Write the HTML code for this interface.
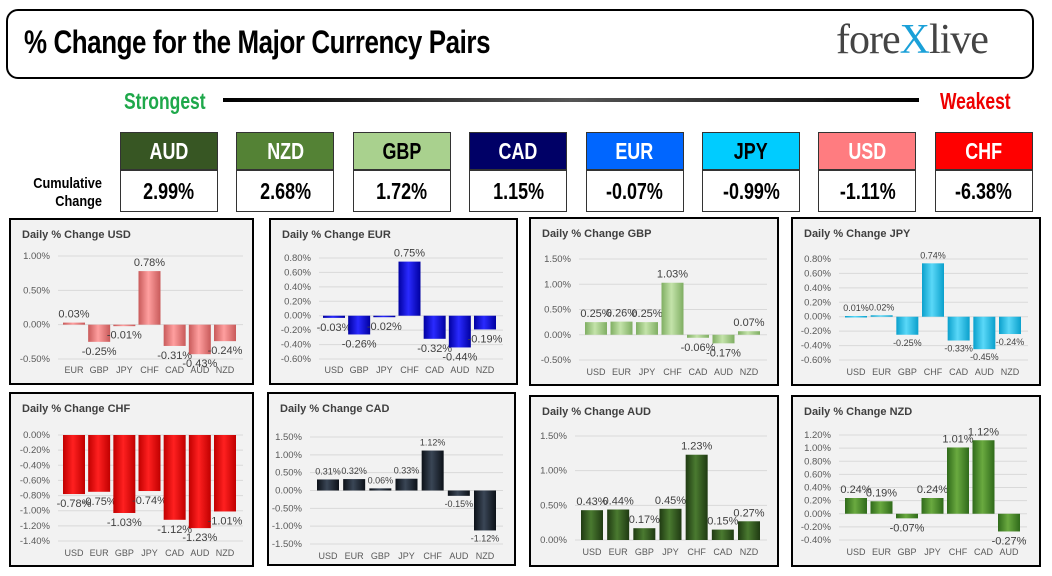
<!DOCTYPE html>
<html><head><meta charset="utf-8">
<style>
body{margin:0;width:1052px;height:576px;background:#fff;position:relative;overflow:hidden;font-family:"Liberation Sans",sans-serif;}
.abs{position:absolute;}
.cond{font-family:"Liberation Sans Narrow","Liberation Sans",sans-serif;font-weight:bold;}
.hdr{position:absolute;top:132px;width:98px;height:38px;border:1px solid #333;box-sizing:border-box;display:flex;align-items:center;justify-content:center;font-size:23px;}
.val{position:absolute;top:170px;width:98px;height:42px;border:1px solid #333;box-sizing:border-box;display:flex;align-items:center;justify-content:center;font-size:23px;color:#000;}
</style></head><body>
<div class="abs" style="left:6px;top:9px;width:1028px;height:70px;border:2px solid #000;border-radius:12px;box-sizing:border-box;"></div>
<div class="abs cond" style="left:24px;top:24px;font-size:32px;transform:scaleX(0.81);transform-origin:left;white-space:nowrap;letter-spacing:-0.5px;">% Change for the Major Currency Pairs</div>
<div class="abs" style="left:836px;top:16px;font-family:'Liberation Serif',serif;font-size:42px;color:#444;white-space:nowrap;letter-spacing:-1px;">fore<span style="color:#1aa0d8">X</span>live</div>
<div class="abs cond" style="left:124px;top:88px;font-size:23px;color:#1ea84a;transform:scaleX(0.76);transform-origin:left;">Strongest</div>
<div class="abs" style="left:223px;top:98px;width:696px;height:4px;background:linear-gradient(to right,#000,#555 50%,#000);"></div>
<div class="abs cond" style="left:940px;top:88px;font-size:23px;color:#e00;transform:scaleX(0.76);transform-origin:left;">Weakest</div>
<div class="abs cond" style="left:18px;top:175px;width:84px;text-align:right;font-size:15px;line-height:18px;transform:scaleX(0.85);transform-origin:right;">Cumulative<br>Change</div>
<div id="boxes"></div>
<svg id="charts" width="1052" height="576" style="position:absolute;left:0;top:0">
<defs></defs>
</svg>
<script>
const boxCurrencies=["AUD","NZD","GBP","CAD","EUR","JPY","USD","CHF"];
const boxValues=["2.99%","2.68%","1.72%","1.15%","-0.07%","-0.99%","-1.11%","-6.38%"];
const boxBg=["#375623","#548235","#a9d18e","#000066","#0066ff","#00ccff","#ff7c80","#ff0000"];
const boxFg=["#fff","#fff","#000","#fff","#fff","#000","#fff","#fff"];
const bx=document.getElementById('boxes');
boxCurrencies.forEach((c,i)=>{
  const x=120+i*116.4;
  const h=document.createElement('div');h.className='hdr cond';
  h.style.left=x+'px';h.style.background=boxBg[i];h.style.color=boxFg[i];
  h.innerHTML='<span style="display:inline-block;transform:scaleX(0.78)">'+c+'</span>';
  
  
  bx.appendChild(h);
  const v=document.createElement('div');v.className='val cond';v.style.left=x+'px';
  v.innerHTML='<span style="display:inline-block;transform:scaleX(0.78)">'+boxValues[i]+'</span>';
  
  
  bx.appendChild(v);
});

// chart data
const usdCats=["EUR","GBP","JPY","CHF","CAD","AUD","NZD"];
const usdVals=[0.03,-0.25,-0.01,0.78,-0.31,-0.43,-0.24];
const usdTicks=[-0.5,0,0.5,1.0];
const eurCats=["USD","GBP","JPY","CHF","CAD","AUD","NZD"];
const eurVals=[-0.03,-0.26,-0.02,0.75,-0.32,-0.44,-0.19];
const eurTicks=[-0.6,-0.4,-0.2,0,0.2,0.4,0.6,0.8];
const gbpCats=["USD","EUR","JPY","CHF","CAD","AUD","NZD"];
const gbpVals=[0.25,0.26,0.25,1.03,-0.06,-0.17,0.07];
const gbpTicks=[-0.5,0,0.5,1.0,1.5];
const jpyCats=["USD","EUR","GBP","CHF","CAD","AUD","NZD"];
const jpyVals=[0.01,0.02,-0.25,0.74,-0.33,-0.45,-0.24];
const jpyTicks=[-0.6,-0.4,-0.2,0,0.2,0.4,0.6,0.8];
const chfCats=["USD","EUR","GBP","JPY","CAD","AUD","NZD"];
const chfVals=[-0.78,-0.75,-1.03,-0.74,-1.12,-1.23,-1.01];
const chfTicks=[-1.4,-1.2,-1.0,-0.8,-0.6,-0.4,-0.2,0];
const cadCats=["USD","EUR","GBP","JPY","CHF","AUD","NZD"];
const cadVals=[0.31,0.32,0.06,0.33,1.12,-0.15,-1.12];
const cadTicks=[-1.5,-1.0,-0.5,0,0.5,1.0,1.5];
const audCats=["USD","EUR","GBP","JPY","CHF","CAD","NZD"];
const audVals=[0.43,0.44,0.17,0.45,1.23,0.15,0.27];
const audTicks=[0,0.5,1.0,1.5];
const nzdCats=["USD","EUR","GBP","JPY","CHF","CAD","AUD"];
const nzdVals=[0.24,0.19,-0.07,0.24,1.01,1.12,-0.27];
const nzdTicks=[-0.4,-0.2,0,0.2,0.4,0.6,0.8,1.0,1.2];

const NS='http://www.w3.org/2000/svg';
const svg=document.getElementById('charts');
const defs=svg.querySelector('defs');
function mk(tag,attrs,parent){const e=document.createElementNS(NS,tag);for(const k in attrs)e.setAttribute(k,attrs[k]);(parent||svg).appendChild(e);return e;}
function grad(id,c1,c2){const g=mk('linearGradient',{id:id,x1:0,x2:1,y1:0,y2:0},defs);
  mk('stop',{offset:'0',   'stop-color':c1},g);mk('stop',{offset:'0.45','stop-color':c2},g);mk('stop',{offset:'1','stop-color':c1},g);}
grad('gUSD','#c85a5a','#ff9f9f');grad('gEUR','#0000a0','#2a2aff');grad('gGBP','#7fae62','#c4e3aa');
grad('gJPY','#0aa0cc','#5ad8f8');grad('gCHF','#c00000','#ff2020');grad('gCAD','#0c1118','#3a4656');
grad('gAUD','#1f3a12','#4a7a30');grad('gNZD','#2f6a1a','#6aaa40');

function chart(o,cats,vals,ticks){
  const g=mk('g',{});
  
  
  const p=mk('rect',{x:o.px,y:o.py,width:o.pw,height:o.ph,fill:'#f2f2f2',stroke:'#000','stroke-width':2},g);
  
  
  const t=mk('text',{x:o.px+12,y:o.py+19,'font-size':11,'font-weight':'bold',fill:'#404040'},g);
  t.textContent='Daily % Change '+o.name.toUpperCase();
  
  
  const tmin=ticks[0],tmax=ticks[ticks.length-1];
  const y=v=>o.yTop+(tmax-v)/(tmax-tmin)*(o.yBot-o.yTop);
  const step=(o.xLast-o.xFirst)/(cats.length-1);
  const x=i=>o.xFirst+i*step;
  ticks.forEach(tv=>{
    const gl=mk('line',{x1:o.axisEnd+8,x2:o.xLast+18,y1:y(tv),y2:y(tv),stroke:'#d9d9d9','stroke-width':1},g);
    
    
    const tl=mk('text',{x:o.axisEnd,y:y(tv)+3,'font-size':9.5,'text-anchor':'end',fill:'#595959'},g);
    tl.textContent=tv.toFixed(2)+'%';
    
    
  });
  cats.forEach((c,i)=>{
    const v=vals[i];const y0=y(0),y1=y(v);
    const b=mk('rect',{x:x(i)-11,y:Math.min(y0,y1),width:22,height:Math.max(1.5,Math.abs(y1-y0)),fill:'url(#g'+o.name.toUpperCase()+')'},g);
    
    
    const cl=mk('text',{x:x(i),y:o.catY,'font-size':9,'text-anchor':'middle',fill:'#595959'},g);
    cl.textContent=c;
    
    
    const vl=mk('text',{x:x(i),y:v>=0?y1-5:y1+o.lf+2,'font-size':o.lf,'text-anchor':'middle',fill:'#404040'},g);
    vl.textContent=v.toFixed(2)+'%';
    
    
  });
}
chart({name:'usd',px:10,py:219,pw:243,ph:165,yTop:256,yBot:359,xFirst:74,xLast:225,axisEnd:50,catY:373,lf:11},usdCats,usdVals,usdTicks);
chart({name:'eur',px:270,py:219,pw:247,ph:165,yTop:258,yBot:359,xFirst:334,xLast:485,axisEnd:311,catY:373,lf:11},eurCats,eurVals,eurTicks);
chart({name:'gbp',px:530,py:218,pw:248,ph:167,yTop:259,yBot:360,xFirst:596,xLast:749,axisEnd:571,catY:375,lf:11},gbpCats,gbpVals,gbpTicks);
chart({name:'jpy',px:792,py:218,pw:248,ph:167,yTop:259,yBot:360,xFirst:856,xLast:1010,axisEnd:831,catY:375,lf:9},jpyCats,jpyVals,jpyTicks);
chart({name:'chf',px:10,py:393,pw:243,ph:173,yTop:435,yBot:541,xFirst:74,xLast:225,axisEnd:50,catY:556,lf:11},chfCats,chfVals,chfTicks);
chart({name:'cad',px:268,py:393,pw:247,ph:172,yTop:437,yBot:544,xFirst:328,xLast:485,axisEnd:302,catY:559,lf:9},cadCats,cadVals,cadTicks);
chart({name:'aud',px:530,py:396,pw:248,ph:170,yTop:436,yBot:540,xFirst:592,xLast:749,axisEnd:567,catY:555,lf:11},audCats,audVals,audTicks);
chart({name:'nzd',px:792,py:396,pw:248,ph:170,yTop:435,yBot:540,xFirst:856,xLast:1009,axisEnd:831,catY:555,lf:11},nzdCats,nzdVals,nzdTicks);
</script>
</body></html>
